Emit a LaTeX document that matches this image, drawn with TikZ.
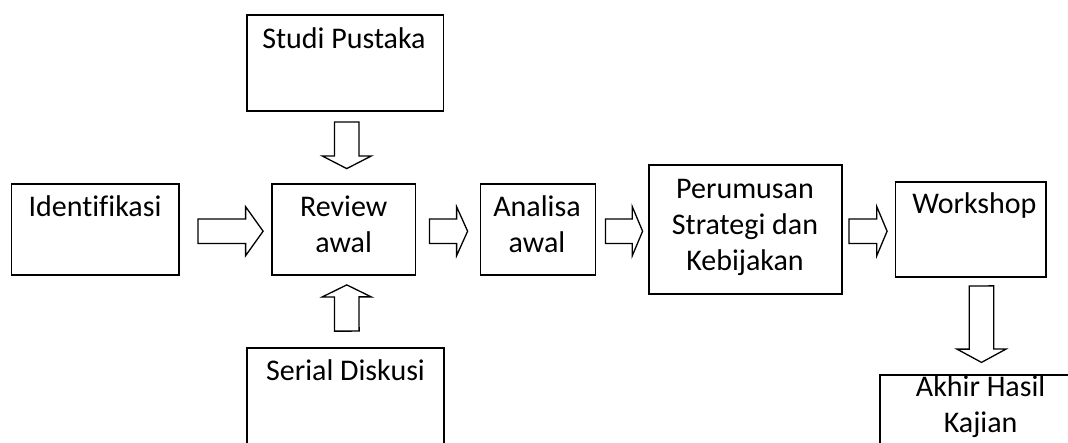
\documentclass[tikz,border=0pt]{standalone}
\usepackage{fontspec}
\setmainfont[Ligatures=NoCommon]{Carlito}
\usetikzlibrary{calc}

% block (hollow) arrow from tail #1 to tip #2 with head length #3
\newcommand\shaftw{12.3pt}
\newcommand\headw{24.5pt}
\newcommand\blockarrow[3]{%
  \coordinate (ba-b) at ($(#2)!#3!(#1)$);
  \draw[blockarr]
    ($(#1)!\shaftw!90:(#2)$) -- ($(ba-b)!\shaftw!90:(#2)$) --
    ($(ba-b)!\headw!90:(#2)$) -- (#2) --
    ($(ba-b)!\headw!-90:(#2)$) -- ($(ba-b)!\shaftw!-90:(#2)$) --
    ($(#1)!\shaftw!-90:(#2)$) -- cycle;
}

\begin{document}
\begin{tikzpicture}[x=1pt,y=-1pt,
  box/.style={draw=black,line width=1.8pt,fill=white,inner sep=0pt,
    minimum width=#1},
  txt/.style={anchor=base,inner sep=0pt,text=black,
    font=\fontsize{30}{36}\selectfont},
  blockarr/.style={draw=black,line width=1.3pt,line join=miter,fill=white}]
  \clip (0,0) rectangle (1068,442);
  \fill[white] (0,0) rectangle (1068,442);

  % boxes
  \node[box=196.5pt,minimum height=96pt]  (studi)  at (345.25,63)   {};
  \node[box=167.5pt,minimum height=91pt]  (ident)  at (95.25,229.5) {};
  \node[box=143.5pt,minimum height=91pt]  (review) at (343.75,229.5) {};
  \node[box=115pt,minimum height=91pt]    (analisa) at (538,229.5)  {};
  \node[box=193pt,minimum height=129pt]   (perum)  at (745.5,229.5) {};
  \node[box=150.5pt,minimum height=95pt]  (work)   at (970.75,229.5) {};
  \node[box=197pt,minimum height=122pt]   (serial) at (345.5,409)   {};
  \node[box=202pt,minimum height=100pt]   (akhir)  at (981,425)     {};

  % texts
  \node[txt] (studi-t)   at (344,48.3)  {Studi Pustaka};
  \node[txt] (ident-t)   at (95,216)    {Identifikasi};
  \node[txt] (review-t)  at (343.7,216) {\begin{tabular}[t]{@{}c@{}}Review\\awal\end{tabular}};
  \node[txt] (analisa-t) at (537,216)   {\begin{tabular}[t]{@{}c@{}}Analisa\\awal\end{tabular}};
  \node[txt] (perum-t)   at (745,198.3) {\begin{tabular}[t]{@{}c@{}}Perumusan\\Strategi dan\\Kebijakan\end{tabular}};
  \node[txt] (work-t)    at (974.4,213.3) {Workshop};
  \node[txt] (serial-t)  at (345.5,380) {Serial Diskusi};
  \node[txt] (akhir-t)   at (980.6,396) {\begin{tabular}[t]{@{}c@{}}Akhir Hasil\\Kajian\end{tabular}};

  % arrow end points
  \coordinate (a1s) at ($(ident.east)+(18,1.7)$);
  \coordinate (a1e) at ($(review.west)+(-8,1.7)$);
  \coordinate (a2s) at ($(review.east)+(13,1.7)$);
  \coordinate (a2e) at ($(analisa.west)+(-12,1.7)$);
  \coordinate (a3s) at ($(analisa.east)+(9,1.7)$);
  \coordinate (a3e) at ($(perum.west)+(-5.5,1.7)$);
  \coordinate (a4s) at ($(perum.east)+(6,1.7)$);
  \coordinate (a4e) at ($(work.west)+(-7.5,1.7)$);
  \coordinate (a5s) at ($(studi.south)+(1.5,10)$);
  \coordinate (a5e) at ($(review.north)+(3,-14.5)$);
  \coordinate (a6s) at ($(serial.north)+(1.3,-16)$);
  \coordinate (a6e) at ($(review.south)+(3,9)$);
  \coordinate (a7s) at ($(work.south)+(10.7,8)$);
  \coordinate (a7e) at ($(akhir.north)+(0.5,-11.7)$);

  % arrows
  \blockarrow{a1s}{a1e}{17.5pt}
  \blockarrow{a2s}{a2e}{11pt}
  \blockarrow{a3s}{a3e}{10.3pt}
  \blockarrow{a4s}{a4e}{10.3pt}
  \blockarrow{a5s}{a5e}{12.6pt}
  \blockarrow{a6s}{a6e}{12pt}
  \blockarrow{a7s}{a7e}{13.3pt}
\end{tikzpicture}
\end{document}
